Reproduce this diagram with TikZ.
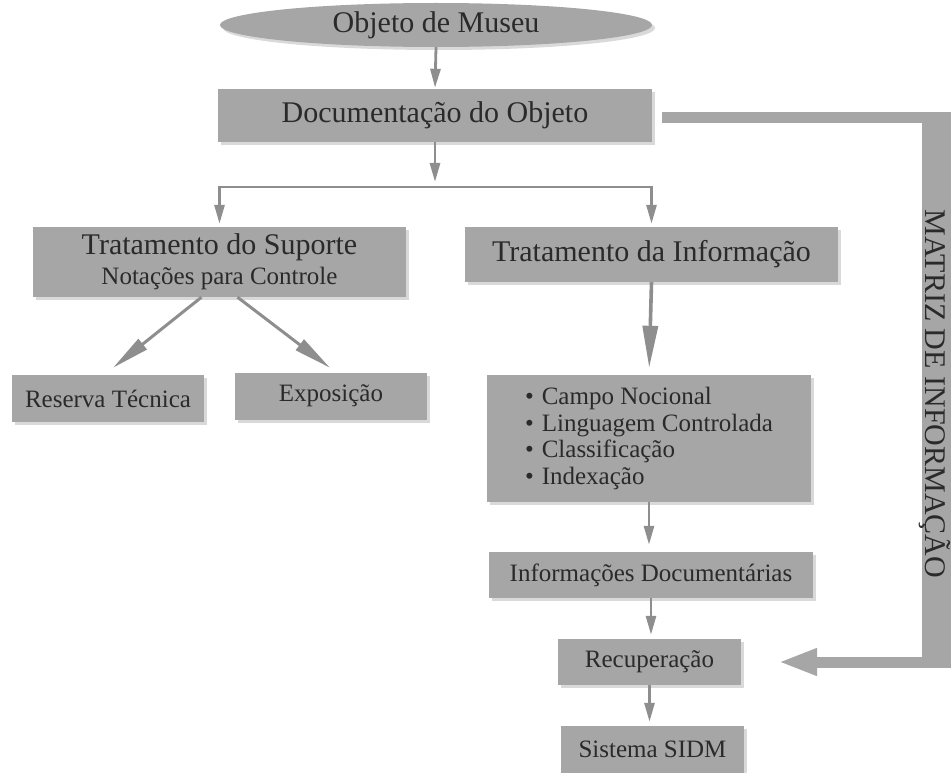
\documentclass[tikz,border=0pt]{standalone}
\usepackage{fontspec}
\setmainfont{Liberation Serif}
\usetikzlibrary{arrows.meta,shapes.geometric,shadows}
\definecolor{boxgray}{HTML}{A6A6A6}
\definecolor{linegray}{HTML}{8E8E8E}
\definecolor{txtgray}{HTML}{2A2A2A}
\newcommand{\bigfnt}{\fontsize{30}{33}\selectfont}
\newcommand{\smallfnt}{\fontsize{25}{26.7}\selectfont}
\newcommand{\matfnt}{\fontsize{30}{32}\selectfont}
\begin{document}
\begin{tikzpicture}[x=1pt,y=-1pt,
  shade box/.style={drop shadow={shadow xshift=3pt,shadow yshift=-3pt,opacity=0.15,fill=black}},
  box/.style={rectangle, fill=boxgray, text=txtgray, inner sep=0pt, shade box},
  conn/.style={draw=linegray, line width=2.8pt},
  arr/.style={conn, -{Triangle[length=19pt,width=10pt]}},
  bigarr/.style={draw=linegray, line width=3.6pt, -{Triangle[length=42pt,width=15pt]}},
  diagarr/.style={draw=linegray, line width=3pt, -{Triangle[length=38pt,width=13pt]}},
  band/.style={draw=boxgray, line width=11pt},
  bandarr/.style={band, -{Triangle[length=39pt,width=25pt]}}
]
\useasboundingbox (0,0) rectangle (951,773);

\node[ellipse, fill=boxgray, text=txtgray, inner sep=0pt, minimum width=432pt, minimum height=44pt, font=\bigfnt, shade box] (obj) at (436,25) {\raisebox{-2pt}{Objeto de Museu}};
\node[box, minimum width=434pt, minimum height=53pt, font=\bigfnt] (doc) at (435,115.5) {Documentação do Objeto};

\node[box, minimum width=373pt, minimum height=70pt, align=center, font=\bigfnt] (sup) at (219.5,262)
  {Tratamento do Suporte\\[-3pt]{\smallfnt Notações para Controle}};
\node[box, minimum width=373pt, minimum height=55pt, font=\bigfnt] (inf) at (651.5,254.5) {Tratamento da Informação};

\node[box, minimum width=192pt, minimum height=47pt, font=\smallfnt] (res) at (108,398.5) {Reserva Técnica};
\node[box, minimum width=192pt, minimum height=47pt, font=\smallfnt] (exp) at (331,396) {Exposição};

\node[box, minimum width=324pt, minimum height=127pt, font=\smallfnt, align=left] (bul) at (649,438.5)
  {\textbullet\hspace{8pt}Campo Nocional\\
   \textbullet\hspace{8pt}Linguagem Controlada\\
   \textbullet\hspace{8pt}Classificação\\
   \textbullet\hspace{8pt}Indexação};
\node[box, minimum width=324pt, minimum height=46pt, font=\smallfnt] (idoc) at (651,575) {Informações Documentárias};
\node[box, minimum width=183pt, minimum height=46pt, font=\smallfnt] (rec) at (649.5,662) {Recuperação};
\node[box, minimum width=183pt, minimum height=47pt, font=\smallfnt] (sidm) at (652.5,749.5) {Sistema SIDM};

% matriz de informacao band
\node[fill=boxgray, inner sep=0pt, minimum width=29pt, minimum height=556pt] (matriz) at (936.5,390) {};
\node[rotate=-90, anchor=base, font=\matfnt, text=txtgray, inner sep=0pt] (mattxt) at ([xshift=-11pt,yshift=-4pt]matriz.center) {MATRIZ DE INFORMAÇÃO};
\coordinate (dstart) at ([xshift=10pt,yshift=-2pt]doc.east);
\draw[band] (dstart) -- (dstart -| matriz.center);
\coordinate (rtip) at ([xshift=37pt]rec.east);
\draw[bandarr] (matriz.center |- rtip) -- (rtip);

% main flow
\draw[arr, shorten >=1pt] (obj.south) -- (doc.north);
\coordinate (br) at (435,187);
\draw[arr] (doc.south) -- ([yshift=5pt]br);
\draw[conn, line cap=butt] ([xshift=-1.4pt]sup.north |- br) -- ([xshift=1.4pt]inf.north |- br);
\draw[arr, shorten >=3pt] (sup.north |- br) -- (sup.north);
\draw[arr, shorten >=3pt] (inf.north |- br) -- (inf.north);

\draw[diagarr] ([xshift=-18pt]sup.south) -- ([xshift=5pt,yshift=7pt]res.north);
\draw[diagarr] ([xshift=18pt]sup.south) -- ([xshift=-1pt,yshift=4.5pt]exp.north);

\draw[bigarr, shorten >=7pt] (inf.south) -- (bul.north);
\draw[arr, shorten >=7pt] (bul.south) -- (bul.south |- idoc.north);
\draw[arr, shorten >=4pt] (idoc.south) -- (idoc.south |- rec.north);
\draw[arr, shorten >=4pt] (rec.south) -- (rec.south |- sidm.north);
\end{tikzpicture}
\end{document}
